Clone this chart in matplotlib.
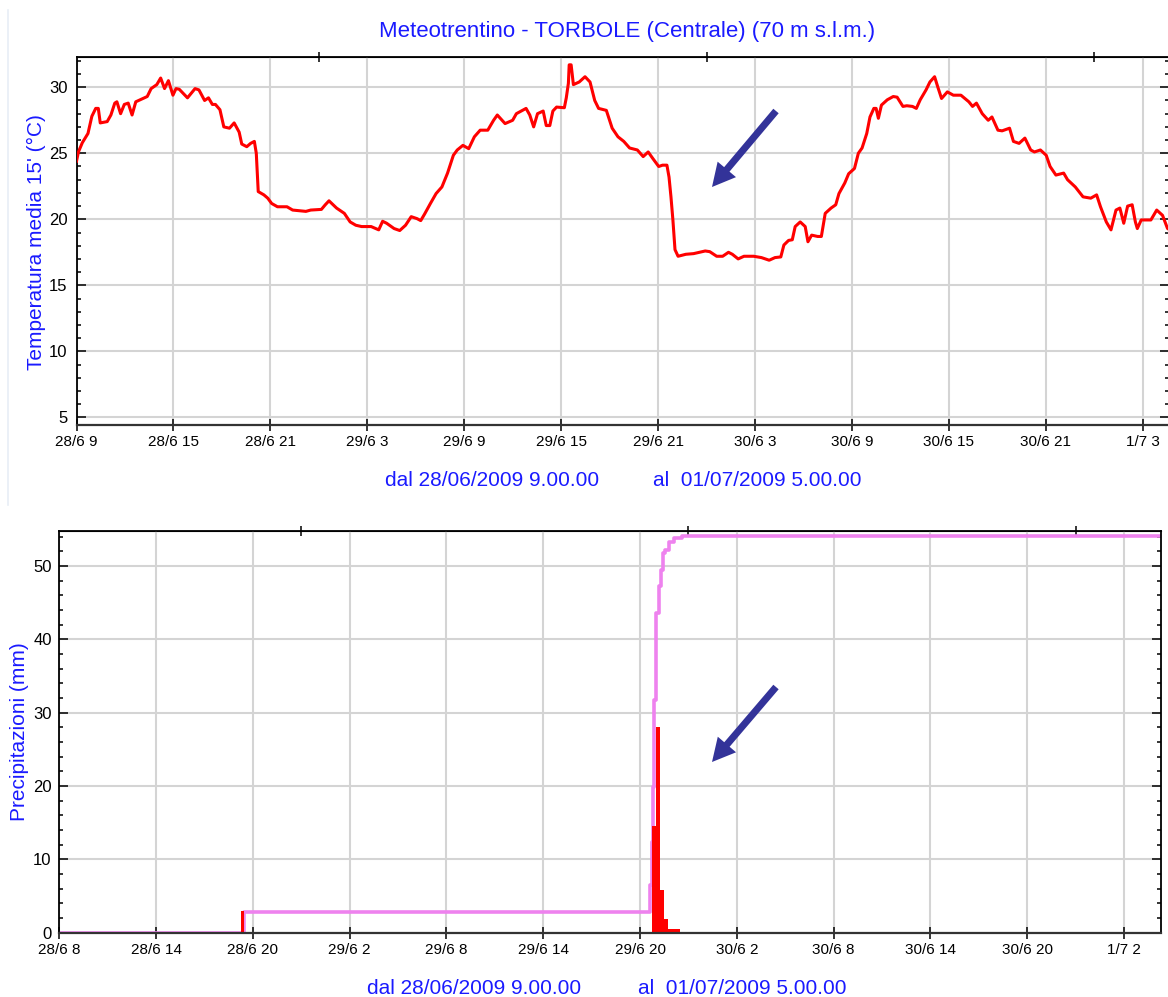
import numpy as np
import matplotlib.pyplot as plt
from matplotlib.patches import FancyArrow
from matplotlib.lines import Line2D

plt.rcParams['font.family'] = ['Liberation Sans', 'DejaVu Sans']

# --- dati ---
# temperatura: ore dall'inizio (28/6 ore 9.00), gradi C
ore_temp = [0, 0.12, 0.36, 0.71, 0.95, 1.19, 1.35, 1.47, 1.9, 2.13, 2.37, 2.5, 2.73, 2.96, 3.2,
            3.44, 3.67, 4.03, 4.38, 4.62, 4.97, 5.21, 5.45, 5.69, 5.97, 6.16, 6.36, 6.87, 7.34,
            7.58, 7.93, 8.17, 8.41, 8.6, 8.88, 9.12, 9.47, 9.76, 10.07, 10.23, 10.54, 10.78,
            11.01, 11.13, 11.25, 11.6, 11.84, 12.08, 12.44, 13.03, 13.38, 14.2, 14.5, 15.16,
            15.4, 15.63, 16.1, 16.58, 16.94, 17.29, 17.65, 18.24, 18.71, 18.95, 19.2, 19.66,
            20.01, 20.37, 20.72, 21.08, 21.31, 21.55, 21.91, 22.26, 22.62, 22.97, 23.33, 23.57,
            23.92, 24.28, 24.63, 24.99, 25.46, 25.82, 26.05, 26.53, 27.0, 27.23, 27.83, 28.06,
            28.3, 28.54, 28.89, 29.08, 29.3, 29.49, 29.72, 30.2, 30.32, 30.45, 30.5, 30.62,
            30.76, 31.12, 31.48, 31.79, 32.08, 32.32, 32.8, 33.16, 33.52, 33.88, 34.24, 34.72,
            35.08, 35.39, 35.68, 36.04, 36.28, 36.55, 36.68, 36.8, 36.92, 37.05, 37.24, 37.72,
            38.2, 38.92, 39.2, 39.63, 40.0, 40.36, 40.6, 40.96, 41.32, 41.92, 42.4, 42.88,
            43.24, 43.6, 43.79, 44.08, 44.31, 44.49, 44.8, 45.11, 45.28, 45.51, 45.88, 46.11,
            46.35, 46.71, 47.0, 47.2, 47.56, 47.8, 48.16, 48.4, 48.63, 48.92, 49.12, 49.36,
            49.5, 49.64, 49.83, 50.19, 50.56, 50.8, 51.16, 51.4, 51.75, 51.99, 52.23, 52.59,
            52.83, 53.12, 53.31, 53.55, 53.91, 54.28, 54.75, 55.24, 55.47, 55.71, 56.07, 56.44,
            56.67, 57.04, 57.3, 57.76, 58.0, 58.35, 58.71, 59.07, 59.3, 59.67, 60.03, 60.27,
            60.63, 61.11, 61.35, 61.83, 62.31, 62.79, 63.15, 63.39, 63.75, 64.04, 64.35, 64.59,
            64.83, 65.07, 65.35, 65.55, 65.67, 65.91, 66.51, 66.87, 67.23, 67.54, 68.0]
temp = [24.4, 25.1, 25.8, 26.5, 27.8, 28.4, 28.4, 27.3, 27.4, 27.9, 28.8, 28.9, 28.0, 28.7, 28.8,
        27.9, 28.9, 29.1, 29.3, 29.9, 30.2, 30.7, 29.9, 30.5, 29.4, 29.9, 29.85, 29.2, 29.9,
        29.8, 29.0, 29.2, 28.7, 28.7, 28.3, 27.0, 26.9, 27.3, 26.6, 25.7, 25.5, 25.75,
        25.9, 25.0, 22.1, 21.85, 21.6, 21.2, 20.95, 20.95, 20.7, 20.6, 20.7, 20.75,
        21.1, 21.4, 20.85, 20.45, 19.8, 19.55, 19.45, 19.45, 19.2, 19.85, 19.7, 19.3,
        19.15, 19.55, 20.2, 20.05, 19.9, 20.4, 21.2, 21.95, 22.45, 23.5, 24.85, 25.25,
        25.6, 25.35, 26.25, 26.75, 26.75, 27.5, 27.9, 27.25, 27.5, 28.0, 28.4, 27.9,
        27.0, 28.0, 28.2, 27.1, 27.1, 28.2, 28.5, 28.45, 29.2, 30.3, 31.7, 31.7,
        30.2, 30.4, 30.8, 30.4, 29.0, 28.4, 28.25, 26.9, 26.25, 25.9, 25.4, 25.25,
        24.75, 25.1, 24.6, 24.0, 24.1, 24.1, 23.2, 21.7, 19.95, 17.7, 17.2, 17.35,
        17.4, 17.6, 17.55, 17.2, 17.2, 17.5, 17.35, 17.0, 17.2, 17.2, 17.1, 16.9,
        17.1, 17.15, 18.05, 18.4, 18.45, 19.45, 19.8, 19.45, 18.3, 18.8, 18.7, 18.7,
        20.45, 20.85, 21.1, 21.95, 22.75, 23.45, 23.85, 25.0, 25.4, 26.5, 27.75, 28.4,
        28.4, 27.65, 28.65, 29.05, 29.3, 29.25, 28.55, 28.6, 28.55, 28.4, 29.05, 29.8,
        30.4, 30.8, 30.05, 29.15, 29.65, 29.4, 29.4, 28.9, 28.55, 28.8, 28.0, 27.5,
        27.75, 26.75, 26.7, 26.9, 25.9, 25.75, 26.15, 25.25, 25.1, 25.25, 24.85, 24.0,
        23.35, 23.5, 23.0, 22.45, 21.7, 21.6, 21.85, 20.95, 19.8, 19.2, 20.7, 20.85,
        19.7, 21.0, 21.1, 19.8, 19.3, 19.95, 19.95, 20.7, 20.3, 19.3, 19.0]

# pioggia 15': ore dalla mezzanotte del 28/6, mm
ore_pioggia = [19.25, 44.75, 45.0, 45.25, 45.5, 45.75, 46.0, 46.25]
pioggia = [2.9, 14.5, 28.1, 5.8, 1.9, 0.45, 0.45, 0.45]

# pioggia cumulata: ore dalla mezzanotte del 28/6, mm
ore_cumulata = [8.0, 19.45, 44.62, 44.76, 44.83, 44.89, 44.98, 45.18, 45.28, 45.41,
                45.53, 45.77, 46.13, 46.6, 76.5]
cumulata = [0.0, 2.85, 6.5, 12.4, 19.9, 31.7, 43.6, 47.2, 49.5, 51.8,
            52.2, 53.2, 53.8, 54.1, 54.1]

etichette_temp = ['28/6 9', '28/6 15', '28/6 21', '29/6 3', '29/6 9', '29/6 15', '29/6 21',
                  '30/6 3', '30/6 9', '30/6 15', '30/6 21', '1/7 3']
etichette_pioggia = ['28/6 8', '28/6 14', '28/6 20', '29/6 2', '29/6 8', '29/6 14', '29/6 20',
                     '30/6 2', '30/6 8', '30/6 14', '30/6 20', '1/7 2']

BLU = '#1a1aff'
GRIGIO = '#d4d4d4'
W, H = 1168, 997

fig = plt.figure(figsize=(W / 100, H / 100), dpi=100)


def assi(l, t, r, b):
    return fig.add_axes([l / W, 1 - b / H, (r - l) / W, (b - t) / H])


def stile(ax, mezzanotti):
    ax.set_axisbelow(True)
    ax.grid(True, which='major', color=GRIGIO, lw=1.5)
    ax.tick_params(axis='x', direction='inout', length=8.5, width=1.1, pad=3, labelsize=11)
    ax.tick_params(axis='y', which='major', direction='in', length=6.5, width=1.1,
                   left=True, right=True, labelsize=12)
    ax.tick_params(axis='y', which='minor', direction='in', length=3, width=1.1,
                   left=True, right=True)
    for s in ax.spines.values():
        s.set_linewidth(1.3)
    ax.spines['bottom'].set_color('#333333')
    ax.spines['bottom'].set_linewidth(1.6)
    sec = ax.secondary_xaxis('top')
    sec.set_xticks(mezzanotti, [''] * len(mezzanotti))
    sec.tick_params(direction='inout', length=7.5, width=1.1)


# --- temperatura ---
ax1 = assi(76.5, 57.3, 1168.5, 425)
ax1.plot(np.array(ore_temp) + 9, temp, color='red', lw=2.2, zorder=3)
ax1.set_xlim(9, 76.6)
ax1.set_ylim(4.42, 32.27)
ax1.set_xticks(np.arange(9, 76, 6), etichette_temp)
ax1.set_yticks(range(5, 31, 5))
ax1.set_yticks(range(5, 33), minor=True)
stile(ax1, [24, 48, 72])
ax1.tick_params(axis='y', which='major', pad=6.5)

# --- precipitazioni ---
ax2 = assi(59.3, 530.7, 1160.7, 932.7)
ax2.bar(ore_pioggia, pioggia, width=0.22, align='edge', color='red', lw=0, zorder=2.45)
ax2.step(ore_cumulata, cumulata, where='post', color='#ee82ee', lw=2.6, zorder=2.4)
ax2.set_xlim(8, 76.28)
ax2.set_ylim(0, 54.8)
ax2.set_xticks(np.arange(8, 75, 6), etichette_pioggia)
ax2.set_yticks(range(0, 51, 10))
ax2.set_yticks(range(0, 55, 2), minor=True)
stile(ax2, [23, 47, 71])
ax2.tick_params(axis='y', which='major', pad=5.5)

# --- testi ---
def testo(x, y, s, **kw):
    fig.text(x / W, 1 - y / H, s, color=BLU, va='center', **kw)


testo(627, 32, 'Meteotrentino - TORBOLE (Centrale) (70 m s.l.m.)', ha='center', fontsize=16)
testo(385, 480, 'dal 28/06/2009 9.00.00', ha='left', fontsize=15)
testo(653, 480, 'al  01/07/2009 5.00.00', ha='left', fontsize=15)
testo(367.4, 988, 'dal 28/06/2009 9.00.00', ha='left', fontsize=15)
testo(637.5, 988, 'al  01/07/2009 5.00.00', ha='left', fontsize=15)
testo(36, 241.7, "Temperatura media 15' (°C)", ha='center', rotation=90, fontsize=15)
testo(20, 732, 'Precipitazioni (mm)', ha='center', rotation=90, fontsize=15)

# --- frecce ---
def freccia(x0, y0, x1, y1):
    fig.add_artist(FancyArrow(x0 / 100, (H - y0) / 100, (x1 - x0) / 100, -(y1 - y0) / 100,
                              width=0.07, head_width=0.24, head_length=0.23,
                              length_includes_head=True, color='#333399', lw=0,
                              transform=fig.dpi_scale_trans))


freccia(776, 111, 712, 187)
freccia(776, 687, 712, 762)

# bordo chiaro della schermata originale
fig.add_artist(Line2D([8 / W, 8 / W], [1 - 10 / H, 1 - 505 / H], color='#e8eef6', lw=1.2,
                      transform=fig.transFigure))

fig.savefig('out.png', dpi=100)
